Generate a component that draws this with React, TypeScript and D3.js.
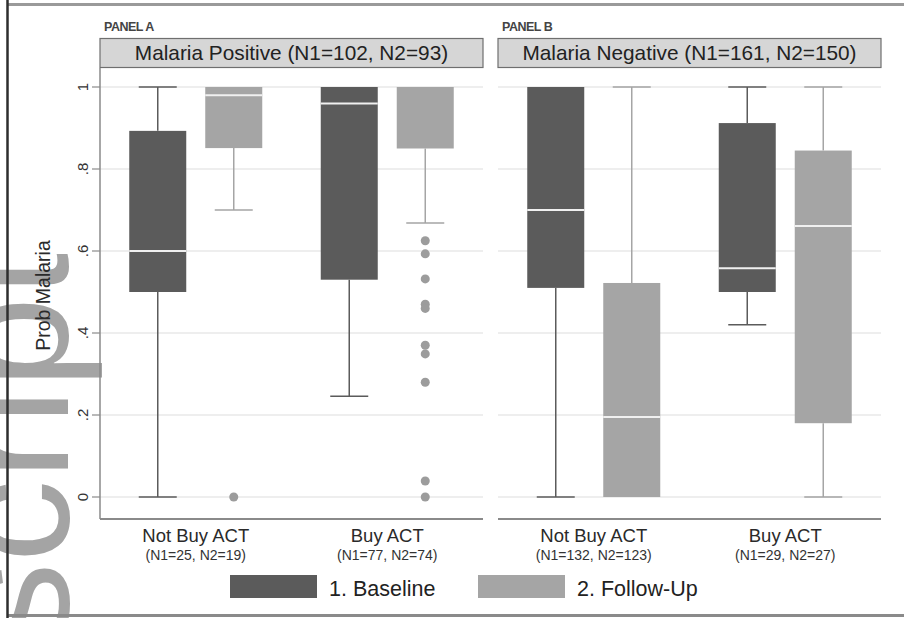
import React from "react";
import * as d3 from "d3";

// panels, groups and series
const panelTitles = ["Malaria Positive (N1=102, N2=93)", "Malaria Negative (N1=161, N2=150)"];
const panelTags = ["PANEL A", "PANEL B"];
const categories = ["Not Buy ACT", "Buy ACT"];
const categoryCounts = [
  ["(N1=25, N2=19)", "(N1=77, N2=74)"],
  ["(N1=132, N2=123)", "(N1=29, N2=27)"],
];
const series = ["1. Baseline", "2. Follow-Up"];
const seriesColors = ["#5b5b5b", "#a5a5a5"];

const yTicks = [0, 0.2, 0.4, 0.6, 0.8, 1];
const yTickLabels = ["0", ".2", ".4", ".6", ".8", "1"];

// [lower whisker, q1, median, q3, upper whisker] — panel A groups then panel B groups
const baselineStats = [
  [0, 0.5, 0.6, 0.893, 1],
  [0.246, 0.53, 0.96, 1, 1],
  [0, 0.51, 0.7, 1, 1],
  [0.42, 0.5, 0.558, 0.912, 1],
];
const followUpStats = [
  [0.7, 0.851, 0.98, 1, 1],
  [0.668, 0.85, 1, 1, 1],
  [0, 0, 0.195, 0.522, 1],
  [0, 0.18, 0.661, 0.845, 1],
];
const baselineOutliers = [[], [], [], []];
const followUpOutliers = [
  [0],
  [0.625, 0.593, 0.532, 0.47, 0.46, 0.37, 0.349, 0.28, 0.039, 0],
  [],
  [],
];

const W = 904;
const H = 618;
const plotTop = 68;
const plotBottom = 519;
const font = "'Liberation Sans', Arial, Helvetica, sans-serif";

export default function App() {
  const panelX = d3
    .scaleBand<string>()
    .domain(panelTitles)
    .range([100, 881])
    .paddingInner(15 / 398);
  const pw = panelX.bandwidth();

  const catX = d3.scaleBand<string>().domain(categories).range([0, pw]);
  const seriesX = d3
    .scaleBand<string>()
    .domain(series)
    .range([-66.5, 66.5])
    .paddingInner(0.25);
  const bw = seriesX.bandwidth();

  const y = d3.scaleLinear().domain([0, 1]).range([497, 87]);

  const statsBySeries = [baselineStats, followUpStats];
  const outliersBySeries = [baselineOutliers, followUpOutliers];

  return (
    <svg
      width={W}
      height={H}
      style={{ position: "absolute", left: 0, top: 0, background: "#fff" }}
      fontFamily={font}
    >
      <defs>
        <clipPath id="wm">
          <rect x={0} y={254} width={120} height={H} />
        </clipPath>
      </defs>

      {/* watermark behind everything */}
      <g clipPath="url(#wm)">
        <text transform="translate(68,645) rotate(-90)" fontSize={165} fill="#a4a4a4">
          script
        </text>
      </g>

      {/* outer frame */}
      <line x1={7} x2={W} y1={4.5} y2={4.5} stroke="#9a9a9a" strokeWidth={3} />
      <line x1={7} x2={W} y1={615.5} y2={615.5} stroke="#8a8a8a" strokeWidth={3} />

      {panelTitles.map((title, p) => {
        const x0 = panelX(title)!;
        return (
          <g key={title}>
            {yTicks.map((t) => (
              <line
                key={t}
                x1={x0}
                x2={x0 + pw}
                y1={y(t)}
                y2={y(t)}
                stroke="#e9e9e9"
                strokeWidth={1.5}
              />
            ))}
            <text x={x0 + 4} y={31} fontSize={12.5} fontWeight="bold" fill="#444" letterSpacing={-0.5}>
              {panelTags[p]}
            </text>
            <rect x={x0} y={38.5} width={pw} height={29} fill="#d6d6d6" stroke="#6f6f6f" strokeWidth={1.2} />
            <text x={x0 + pw / 2} y={60} textAnchor="middle" fontSize={20.8} fill="#222">
              {title}
            </text>
            <line x1={x0} x2={x0 + pw} y1={plotBottom} y2={plotBottom} stroke="#8a8a8a" strokeWidth={1.8} />
            {categories.map((cat, c) => {
              const cx = x0 + catX(cat)! + catX.bandwidth() / 2;
              const idx = p * 2 + c;
              return (
                <g key={cat}>
                  <text x={cx} y={542} textAnchor="middle" fontSize={18.5} fill="#2a2a2a">
                    {cat}
                  </text>
                  <text x={cx} y={560} textAnchor="middle" fontSize={14} fill="#333">
                    {categoryCounts[p][c]}
                  </text>
                  {series.map((s, si) => {
                    const [lo, q1, med, q3, hi] = statsBySeries[si][idx];
                    const bx = cx + seriesX(s)!;
                    const mx = bx + bw / 2;
                    const col = seriesColors[si];
                    return (
                      <g key={s}>
                        {hi > q3 && (
                          <>
                            <line x1={mx} x2={mx} y1={y(q3)} y2={y(hi)} stroke={col} strokeWidth={1.5} />
                            <line x1={mx - 19} x2={mx + 19} y1={y(hi)} y2={y(hi)} stroke={col} strokeWidth={1.5} />
                          </>
                        )}
                        {lo < q1 && (
                          <>
                            <line x1={mx} x2={mx} y1={y(q1)} y2={y(lo)} stroke={col} strokeWidth={1.5} />
                            <line x1={mx - 19} x2={mx + 19} y1={y(lo)} y2={y(lo)} stroke={col} strokeWidth={1.5} />
                          </>
                        )}
                        <rect x={bx} y={y(q3)} width={bw} height={y(q1) - y(q3)} fill={col} />
                        {med < 1 && (
                          <line x1={bx} x2={bx + bw} y1={y(med)} y2={y(med)} stroke="#f0f0f0" strokeWidth={2} />
                        )}
                        {outliersBySeries[si][idx].map((o, k) => (
                          <circle key={k} cx={mx} cy={y(o)} r={4.5} fill="#9c9c9c" />
                        ))}
                      </g>
                    );
                  })}
                </g>
              );
            })}
          </g>
        );
      })}

      {/* y axis */}
      <line x1={100} x2={100} y1={plotTop} y2={plotBottom} stroke="#8a8a8a" strokeWidth={1.5} />
      {yTicks.map((t, i) => (
        <g key={t}>
          <line x1={92} x2={100} y1={y(t)} y2={y(t)} stroke="#8a8a8a" strokeWidth={1.2} />
          <text
            transform={`translate(88,${y(t)}) rotate(-90)`}
            textAnchor="middle"
            fontSize={15}
            fill="#333"
          >
            {yTickLabels[i]}
          </text>
        </g>
      ))}
      <text
        transform={`translate(50,${(plotTop + plotBottom) / 2 + 2}) rotate(-90)`}
        textAnchor="middle"
        fontSize={19.5}
        fill="#2a2a2a"
      >
        Prob Malaria
      </text>

      {/* legend */}
      {series.map((s, i) => {
        const lx = [230, 478][i];
        return (
          <g key={s}>
            <rect x={lx} y={575} width={87} height={23} fill={seriesColors[i]} />
            <text x={lx + 99} y={596} fontSize={21.5} fill="#222">
              {s}
            </text>
          </g>
        );
      })}

      <line x1={7.5} x2={7.5} y1={0} y2={H} stroke="#2e2e2e" strokeWidth={2.5} />
    </svg>
  );
}
